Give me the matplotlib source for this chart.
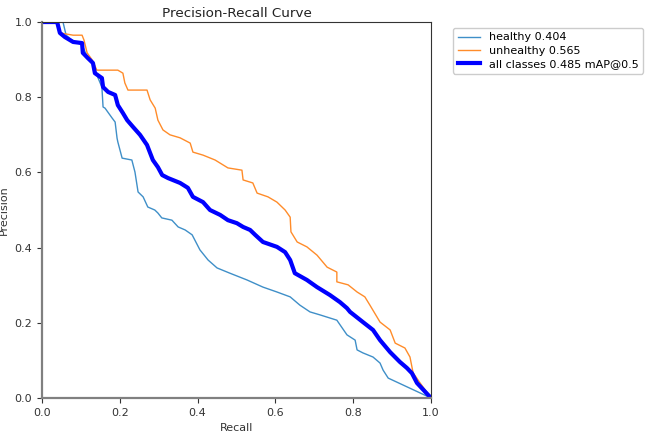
import matplotlib
matplotlib.use("Agg")
import matplotlib.pyplot as plt

# Recall / precision samples
healthy_r = [0, 0.054, 0.062, 0.077, 0.103, 0.118, 0.131, 0.141, 0.154, 0.157, 0.162, 0.180, 0.188, 0.193,
             0.195, 0.206, 0.231, 0.239, 0.247, 0.260, 0.272, 0.290, 0.298, 0.308, 0.334, 0.350, 0.368, 0.386,
             0.406, 0.427, 0.450, 0.483, 0.527, 0.568, 0.604, 0.638, 0.663, 0.689, 0.715, 0.758, 0.784, 0.805,
             0.810, 0.825, 0.851, 0.869, 0.877, 0.890, 1.0]
healthy_p = [1.0, 1.0, 0.965, 0.952, 0.939, 0.904, 0.891, 0.859, 0.827, 0.774, 0.771, 0.745, 0.734, 0.691,
             0.681, 0.638, 0.633, 0.601, 0.548, 0.535, 0.508, 0.500, 0.492, 0.479, 0.473, 0.455, 0.447, 0.434,
             0.394, 0.367, 0.346, 0.332, 0.314, 0.295, 0.282, 0.269, 0.247, 0.229, 0.221, 0.207, 0.168, 0.154,
             0.128, 0.120, 0.109, 0.093, 0.074, 0.053, 0.0]

unhealthy_r = [0, 0.041, 0.046, 0.080, 0.103, 0.108, 0.116, 0.129, 0.141, 0.195, 0.208, 0.213, 0.221, 0.270,
               0.278, 0.291, 0.298, 0.311, 0.329, 0.355, 0.381, 0.388, 0.414, 0.445, 0.478, 0.514, 0.517, 0.542,
               0.553, 0.581, 0.604, 0.625, 0.638, 0.640, 0.656, 0.681, 0.707, 0.733, 0.758, 0.758, 0.787, 0.810,
               0.830, 0.843, 0.869, 0.895, 0.908, 0.933, 0.946, 0.954, 0.972, 1.0]
unhealthy_p = [1.0, 1.0, 0.971, 0.965, 0.965, 0.952, 0.918, 0.899, 0.872, 0.872, 0.864, 0.838, 0.819, 0.819,
               0.793, 0.771, 0.739, 0.713, 0.700, 0.692, 0.678, 0.654, 0.646, 0.633, 0.612, 0.606, 0.580, 0.572,
               0.545, 0.535, 0.521, 0.500, 0.481, 0.442, 0.415, 0.402, 0.380, 0.348, 0.335, 0.309, 0.301, 0.282,
               0.269, 0.247, 0.202, 0.181, 0.146, 0.133, 0.109, 0.067, 0.040, 0.0]

all_r = [0, 0.039, 0.046, 0.059, 0.080, 0.103, 0.105, 0.118, 0.131, 0.136, 0.154, 0.157, 0.170, 0.188, 0.195,
         0.208, 0.219, 0.234, 0.252, 0.270, 0.285, 0.298, 0.309, 0.324, 0.355, 0.375, 0.388, 0.414, 0.432, 0.458,
         0.478, 0.501, 0.517, 0.535, 0.548, 0.568, 0.604, 0.625, 0.638, 0.650, 0.681, 0.707, 0.740, 0.766, 0.784,
         0.792, 0.825, 0.851, 0.869, 0.895, 0.920, 0.938, 0.951, 0.964, 1.0]
all_p = [1.0, 1.0, 0.971, 0.960, 0.947, 0.944, 0.918, 0.904, 0.891, 0.864, 0.851, 0.827, 0.814, 0.806, 0.779,
         0.758, 0.739, 0.721, 0.700, 0.673, 0.633, 0.614, 0.593, 0.585, 0.572, 0.559, 0.535, 0.521, 0.500, 0.487,
         0.473, 0.465, 0.455, 0.447, 0.434, 0.415, 0.402, 0.388, 0.367, 0.332, 0.314, 0.295, 0.274, 0.255, 0.239,
         0.229, 0.202, 0.181, 0.154, 0.122, 0.096, 0.080, 0.066, 0.040, 0.0]

labels = ["healthy 0.404", "unhealthy 0.565", "all classes 0.485 mAP@0.5"]
ticks = [0.0, 0.2, 0.4, 0.6, 0.8, 1.0]
tick_labels = ["0.0", "0.2", "0.4", "0.6", "0.8", "1.0"]

fig = plt.figure(figsize=(6.54, 4.37), dpi=100)
ax = fig.add_axes([0.0642, 0.0892, 0.5948, 0.8604])

ax.plot(healthy_r, healthy_p, color="#3f8fc8", lw=1.0, label=labels[0])
ax.plot(unhealthy_r, unhealthy_p, color="#ff8c2a", lw=1.0, label=labels[1])
ax.plot(all_r, all_p, color="blue", lw=3.0, label=labels[2])

ax.set_xlim(0, 1)
ax.set_ylim(0, 1)
ax.set_xticks(ticks)
ax.set_xticklabels(tick_labels)
ax.set_yticks(ticks)
ax.set_yticklabels(tick_labels)
ax.tick_params(labelsize=8, colors="#333333")
for s in ["left", "bottom"]:
    ax.spines[s].set_color("#808080")
    ax.spines[s].set_linewidth(1.6)
for s in ["top", "right"]:
    ax.spines[s].set_color("#333333")
    ax.spines[s].set_linewidth(0.8)

ax.set_xlabel("Recall", fontsize=8, color="#333333")
ax.set_ylabel("Precision", fontsize=8, color="#333333")
ax.yaxis.set_label_coords(-0.086, 0.5)
ax.set_title("Precision-Recall Curve", fontsize=9.7, color="#222222", pad=3.5)

ax.legend(loc="upper left", bbox_to_anchor=(1.057, 0.984), borderaxespad=0, fontsize=8,
          labelspacing=0.3, framealpha=1, edgecolor="#cccccc")

fig.savefig("out.png", dpi=100)
